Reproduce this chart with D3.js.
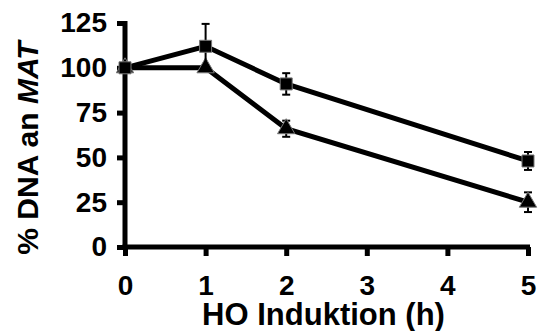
<!DOCTYPE html>
<html>
<head>
<meta charset="utf-8">
<script src="https://cdn.jsdelivr.net/npm/d3@7"></script>
<style>
  html, body { margin: 0; padding: 0; background: #fff; }
  svg { display: block; }
  text { font-family: Arial, "Liberation Sans", sans-serif; font-weight: bold; fill: #000; }
</style>
</head>
<body>
<svg id="chart" width="539" height="331"></svg>
<script>
// Time points (h) and measured values
const hours = [0, 1, 2, 5];
const squareValues = [100, 112, 91, 48];
const squareErrors = [0, 12.5, 6, 5];
const triangleValues = [100, 100, 66, 25];
const triangleErrors = [0, 0, 4.5, 5.5];
const xTicks = [0, 1, 2, 3, 4, 5];
const yTicks = [0, 25, 50, 75, 100, 125];

const svg = d3.select("#chart");
const x = d3.scaleLinear().domain([0, 5]).range([125, 528]);
const y = d3.scaleLinear().domain([0, 125]).range([247, 23]);

// Axes
const yAxis = svg.append("g").attr("transform", `translate(${x(0)},0)`)
  .call(d3.axisLeft(y).tickValues(yTicks).tickFormat(d3.format("d"))
    .tickSize(8).tickPadding(10).tickSizeOuter(0));
const xAxis = svg.append("g").attr("transform", `translate(0,${y(0)})`)
  .call(d3.axisBottom(x).tickValues(xTicks).tickFormat(d3.format("d"))
    .tickSize(9).tickPadding(19).tickSizeOuter(0));
[yAxis, xAxis].forEach(a => {
  a.select(".domain").attr("stroke", "#000").attr("stroke-width", 5);
  a.selectAll(".tick line").attr("stroke", "#000").attr("stroke-width", 5);
  a.selectAll(".tick text").attr("font-size", 28).attr("font-weight", "bold")
    .attr("font-family", "Arial, 'Liberation Sans', sans-serif").attr("fill", "#000");
});
// extend domains to cover the line caps
yAxis.select(".domain").attr("d", `M0,${y(0) + 2.5}V${y(125) - 2}`);
xAxis.select(".domain").attr("d", `M${-2.5},0H${x(5) - x(0) + 2}`).attr("transform", `translate(${x(0)},0)`);

// Axis titles
svg.append("text")
  .attr("x", (x(0) + x(5)) / 2 - 3).attr("y", 325)
  .attr("text-anchor", "middle").attr("font-size", 31)
  .text("HO Induktion (h)");
const yl = svg.append("text")
  .attr("transform", `translate(38,148) rotate(-90)`)
  .attr("text-anchor", "middle").attr("font-size", 30);
yl.append("tspan").text("% DNA an ");
yl.append("tspan").attr("font-style", "italic").text("MAT");

const line = d3.line().x(d => x(d[0])).y(d => y(d[1]));

function drawSeries(vals, errs, symbolType, size) {
  const pts = hours.map((h, i) => [h, vals[i], errs[i]]);
  svg.append("path").datum(pts).attr("d", line)
    .attr("fill", "none").attr("stroke", "#000").attr("stroke-width", 5)
    .attr("stroke-linejoin", "miter");
  const eb = svg.append("g");
  pts.filter(p => p[2] > 0).forEach(p => {
    const cx = x(p[0]);
    eb.append("line").attr("x1", cx).attr("x2", cx)
      .attr("y1", y(p[1] - p[2])).attr("y2", y(p[1] + p[2]))
      .attr("stroke", "#000").attr("stroke-width", 2);
    [p[1] - p[2], p[1] + p[2]].forEach(v => {
      eb.append("line").attr("x1", cx - 4).attr("x2", cx + 4)
        .attr("y1", y(v)).attr("y2", y(v))
        .attr("stroke", "#000").attr("stroke-width", 2);
    });
  });
  svg.append("g").selectAll("path").data(pts).join("path")
    .attr("transform", d => `translate(${x(d[0])},${y(d[1])})`)
    .attr("d", d3.symbol().type(symbolType).size(size))
    .attr("fill", "#000").attr("stroke", "#777").attr("stroke-width", 1);
}

drawSeries(triangleValues, triangleErrors, d3.symbolTriangle, 130);
drawSeries(squareValues, squareErrors, d3.symbolSquare, 144);
</script>
</body>
</html>
